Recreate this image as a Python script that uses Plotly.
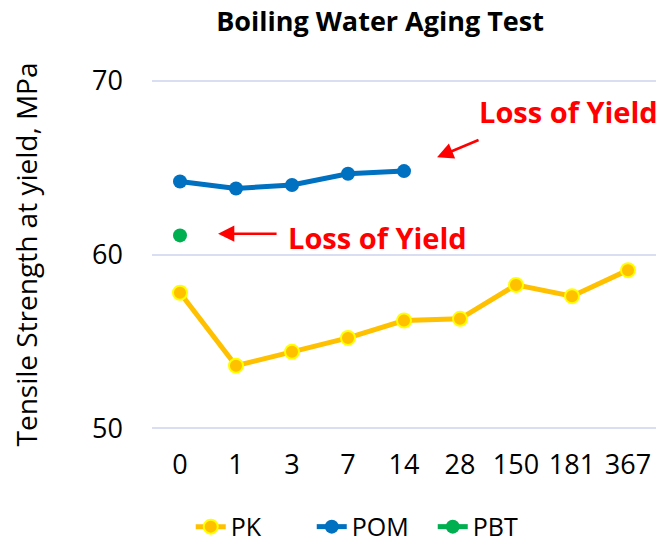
import plotly.graph_objects as go

days = ["0", "1", "3", "7", "14", "28", "150", "181", "367"]
pk = [57.8, 53.6, 54.4, 55.2, 56.2, 56.3, 58.25, 57.6, 59.1]
pom = [64.2, 63.8, 64.0, 64.65, 64.8]
pbt = [61.1]

FONT = "Open Sans"

fig = go.Figure()
fig.add_trace(go.Scatter(
    x=days, y=pk, name="PK", mode="lines+markers",
    line=dict(color="#FFC000", width=5),
    marker=dict(color="#FFC000", size=14, line=dict(color="#FFFF00", width=2)),
))
fig.add_trace(go.Scatter(
    x=days[:len(pom)], y=pom, name="POM", mode="lines+markers",
    line=dict(color="#0070C0", width=5),
    marker=dict(color="#0070C0", size=14),
))
fig.add_trace(go.Scatter(
    x=days[:len(pbt)], y=pbt, name="PBT", mode="lines+markers",
    line=dict(color="#00B050", width=5),
    marker=dict(color="#00B050", size=14),
))

red = "#FF0000"
fig.add_annotation(x=4.59, y=65.59, xref="x", yref="y", ax=43, ay=-18,
                   text="", showarrow=True, arrowhead=2, arrowsize=1.3,
                   arrowwidth=2.5, arrowcolor=red)
fig.add_annotation(x=6.93, y=68.24, xref="x", yref="y", text="<b>Loss of Yield</b>",
                   showarrow=False, font=dict(family=FONT, size=29, color=red))
fig.add_annotation(x=0.68, y=61.2, xref="x", yref="y", ax=60, ay=0,
                   text="", showarrow=True, arrowhead=2, arrowsize=1.3,
                   arrowwidth=2.5, arrowcolor=red)
fig.add_annotation(x=3.52, y=60.98, xref="x", yref="y", text="<b>Loss of Yield</b>",
                   showarrow=False, font=dict(family=FONT, size=29, color=red))

fig.update_layout(
    width=661, height=548,
    paper_bgcolor="white", plot_bgcolor="white",
    margin=dict(l=152, r=5, t=79, b=118, autoexpand=False),
    font=dict(family=FONT, color="#000000"),
    title=dict(text="<b>Boiling Water Aging Test</b>", x=0.575, xanchor="center",
               y=0.96, yanchor="middle", yref="container",
               font=dict(family=FONT, size=27, color="#000")),
    showlegend=True,
    legend=dict(orientation="h", x=0.437, xanchor="center", xref="paper",
                y=-0.276, yanchor="middle", font=dict(family=FONT, size=25),
                entrywidth=76, entrywidthmode="pixels", tracegroupgap=0),
)
fig.update_xaxes(type="category", range=[-0.5, 8.5], showgrid=False, showline=False,
                 zeroline=False, automargin=False,
                 tickfont=dict(family=FONT, size=27), ticks="", ticklabelstandoff=16)
fig.update_yaxes(range=[49.9, 70.1], tickvals=[50, 60, 70], showgrid=True,
                 gridcolor="#D9DEF2", gridwidth=1.5, zeroline=False, showline=False,
                 ticks="", automargin=False,
                 tickfont=dict(family=FONT, size=27), ticklabelstandoff=28,
                 title=dict(text="Tensile Strength at yield, MPa",
                            font=dict(family=FONT, size=28), standoff=46))

fig.write_html("out.html", config={"displayModeBar": False},
               post_script="document.body.style.margin='0';document.body.style.overflow='hidden';")
